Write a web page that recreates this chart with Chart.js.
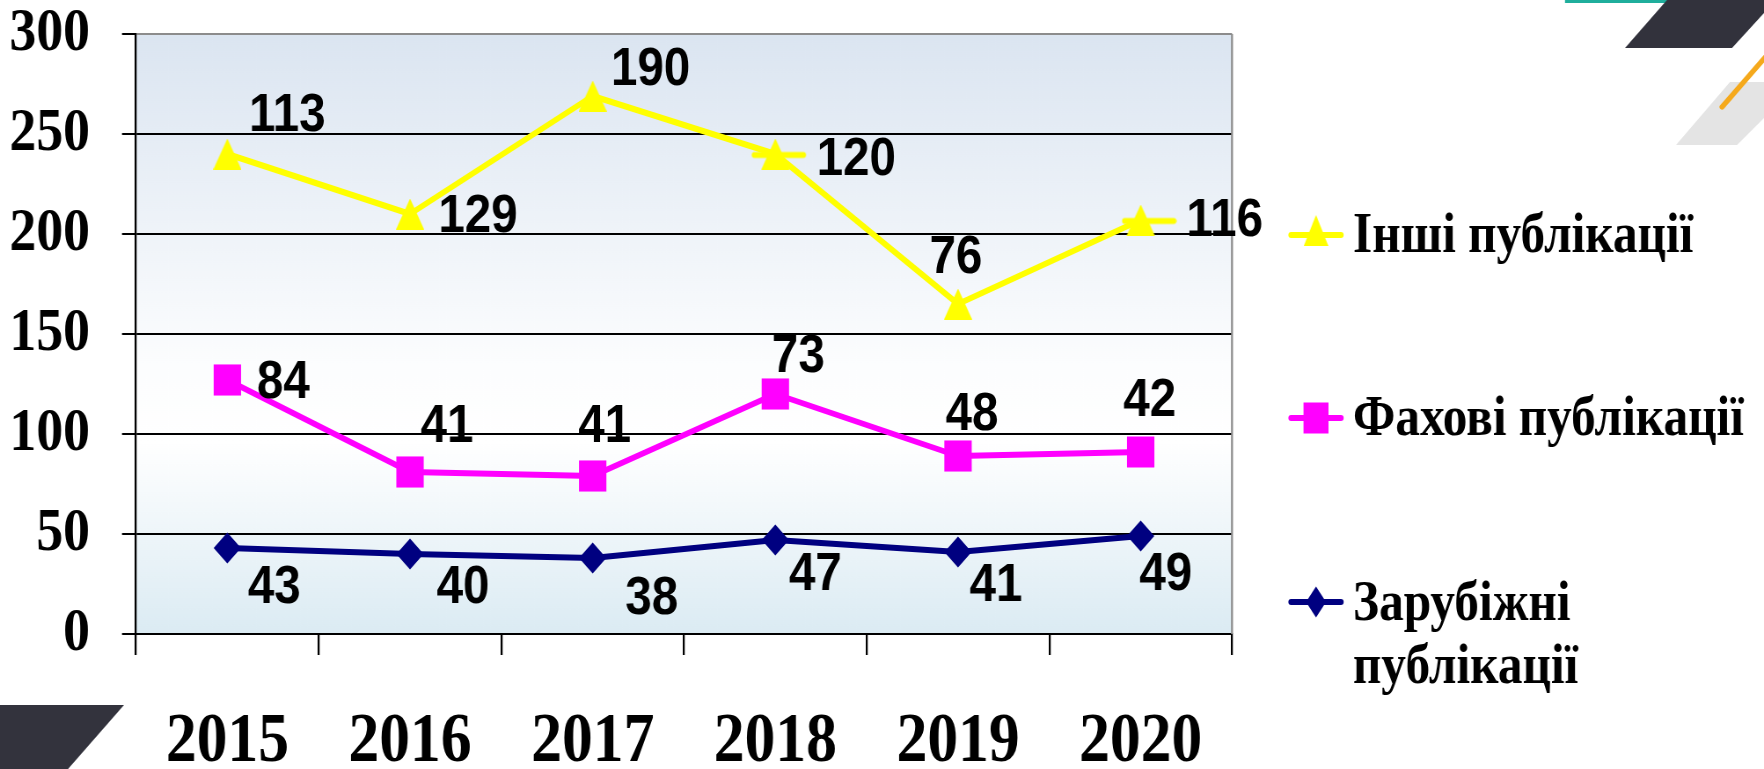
<!DOCTYPE html>
<html><head><meta charset="utf-8">
<script src="https://cdn.jsdelivr.net/npm/chart.js@4.4.1/dist/chart.umd.min.js"></script>
<style>
html,body{margin:0;padding:0;background:#fff;overflow:hidden;}
#wrap{position:relative;width:1764px;height:769px;overflow:hidden;background:#fff;}
#c{position:absolute;left:0;top:0;transform-origin:0 0;}
</style></head><body>
<div id="wrap"><canvas id="c" width="2005" height="769" style="width:2005px;height:769px"></canvas></div>
<script>
// ---- data ----
const years = ['2015','2016','2017','2018','2019','2020'];
const foreignPubs = [43, 40, 38, 47, 41, 49];        // Зарубіжні публікації
const professionalPubs = [84, 41, 41, 73, 48, 42];   // Фахові публікації
const otherPubs = [113, 129, 190, 120, 76, 116];     // Інші публікації
const yTickValues = [0, 50, 100, 150, 200, 250, 300];
const seriesNames = ['Зарубіжні публікації', 'Фахові публікації', 'Інші публікації'];

// ---- layout / style ----
const W = 2005, H = 769;
const S = 1764 / W;               // horizontal condensation of the whole picture
document.getElementById('c').style.transform = 'scaleX(' + S + ')';
const ax = v => v / S;            // actual px -> internal px (horizontal)

const COLORS = ['#000080', '#FF00FF', '#FFFF00'];

// label offsets (actual px, relative to point)
const labelOffsets = [
  [[47,40],[53,34],[59,41],[40,35],[38,34],[25,39]],
  [[56,3],[37,-45],[12,-49],[23,-37],[14,-41],[9,-51]],
  [[60,-38],[68,3],[58,-26],[81,6],[-2,-46],[84,1]]
];

function triCanvas(wAct, h, color, dash) {
  const c = document.createElement('canvas');
  const tw = Math.round(ax(wAct));
  c.width = dash ? Math.round(ax(72)) : tw; c.height = h;
  const g = c.getContext('2d');
  const cx = c.width / 2;
  g.fillStyle = color;
  g.beginPath();
  g.moveTo(cx, 0);
  g.lineTo(cx + tw / 2, c.height);
  g.lineTo(cx - tw / 2, c.height);
  g.closePath(); g.fill();
  if (dash) {
    g.strokeStyle = color; g.lineWidth = 6; g.lineCap = 'round';
    g.beginPath(); g.moveTo(cx - ax(dash[0]), h / 2 + 1); g.lineTo(cx + ax(dash[1]), h / 2 + 1); g.stroke();
  }
  return c;
}
const triPoint = triCanvas(28, 31, COLORS[2]);
const triDashA = triCanvas(28, 31, COLORS[2], [21, 28]);
const triDashB = triCanvas(28, 31, COLORS[2], [16, 33]);
const triLegend = triCanvas(25, 31, COLORS[2]);

const decorPlugin = {
  id: 'decor',
  beforeDraw(chart) {
    const ctx = chart.ctx, a = chart.chartArea;
    ctx.save();
    ctx.fillStyle = '#ffffff';
    ctx.fillRect(0, 0, chart.width, chart.height);
    const gr = ctx.createLinearGradient(0, a.top, 0, a.bottom);
    gr.addColorStop(0, '#dbe5f1');
    gr.addColorStop(0.55, '#fcfdfe');
    gr.addColorStop(0.68, '#ffffff');
    gr.addColorStop(1, '#dbebf3');
    ctx.fillStyle = gr;
    ctx.fillRect(a.left, a.top, a.right - a.left, a.bottom - a.top);
    ctx.scale(1 / S, 1);
    const poly = (pts, col) => {
      ctx.fillStyle = col; ctx.beginPath();
      pts.forEach((p, i) => i ? ctx.lineTo(p[0], p[1]) : ctx.moveTo(p[0], p[1]));
      ctx.closePath(); ctx.fill();
    };
    poly([[1565,0],[1700,0],[1700,3],[1565,3]], '#1fae9c');
    poly([[1667,0],[1776,0],[1732,48],[1625,48]], '#32323c');
    poly([[1730,82],[1800,82],[1737,145],[1676,145]], '#e4e4e4');
    ctx.strokeStyle = '#f5a91c'; ctx.lineWidth = 5; ctx.lineCap = 'round';
    ctx.beginPath(); ctx.moveTo(1722, 107); ctx.lineTo(1775, 46); ctx.stroke();
    poly([[0,705],[124,705],[68,769],[0,769]], '#33333d');
    ctx.restore();
  },
  beforeDatasetsDraw(chart) {
    const ctx = chart.ctx, a = chart.chartArea;
    ctx.save();
    ctx.strokeStyle = '#8c8c8c'; ctx.lineWidth = ax(2);
    ctx.beginPath(); ctx.moveTo(a.right, a.top); ctx.lineTo(a.right, a.bottom); ctx.stroke();
    ctx.restore();
  },
  afterDatasetsDraw(chart) {
    const ctx = chart.ctx;
    ctx.save();
    ctx.font = 'bold 54px "Liberation Sans", Arial, sans-serif';
    ctx.fillStyle = '#000';
    ctx.textAlign = 'center'; ctx.textBaseline = 'middle';
    chart.data.datasets.forEach((ds, di) => {
      const meta = chart.getDatasetMeta(di);
      meta.data.forEach((pt, i) => {
        const off = labelOffsets[di][i];
        ctx.fillText(String(ds.rawValues[i]), pt.x + ax(off[0]), pt.y + off[1]);
      });
    });
    ctx.restore();
  },
  afterDraw(chart) {
    const ctx = chart.ctx;
    ctx.save();
    const rows = [
      {di: 2, y: 235, base: 252},
      {di: 1, y: 418, base: 435},
      {di: 0, y: 602, base: 620}
    ];
    ctx.font = 'bold 56px "Liberation Serif", "Times New Roman", serif';
    ctx.textAlign = 'left'; ctx.textBaseline = 'alphabetic';
    const maxW = ax(400);
    rows.forEach(r => {
      const ds = chart.data.datasets[r.di];
      ctx.strokeStyle = ds.borderColor; ctx.lineWidth = 6; ctx.lineCap = 'round';
      ctx.beginPath(); ctx.moveTo(ax(1291), r.y); ctx.lineTo(ax(1341), r.y); ctx.stroke();
      const cx = ax(1316);
      ctx.fillStyle = ds.borderColor;
      if (r.di === 2) {
        ctx.drawImage(triLegend, cx - triLegend.width / 2, r.y - 20);
      } else if (r.di === 1) {
        ctx.fillRect(cx - ax(12.5), r.y - 15.5, ax(25), 31);
      } else {
        ctx.beginPath();
        ctx.moveTo(cx, r.y - 15.5); ctx.lineTo(cx + ax(10), r.y);
        ctx.lineTo(cx, r.y + 15.5); ctx.lineTo(cx - ax(10), r.y);
        ctx.closePath(); ctx.fill();
      }
      const words = ds.label.split(' ');
      const lines = []; let cur = '';
      words.forEach(w => {
        const t = cur ? cur + ' ' + w : w;
        if (cur && ctx.measureText(t).width > maxW) { lines.push(cur); cur = w; } else cur = t;
      });
      lines.push(cur);
      ctx.fillStyle = '#000';
      lines.forEach((ln, k) => ctx.fillText(ln, ax(1353), r.base + k * 63));
    });
    ctx.restore();
  }
};

const datasets = [
  {label: seriesNames[0], data: foreignPubs, rawValues: foreignPubs, borderColor: COLORS[0], backgroundColor: COLORS[0],
   pointStyle: 'rectRot', pointRadius: 15.5},
  {label: seriesNames[1], data: professionalPubs, rawValues: professionalPubs, borderColor: COLORS[1], backgroundColor: COLORS[1],
   pointStyle: 'rect', pointRadius: 22},
  {label: seriesNames[2], data: otherPubs, rawValues: otherPubs, borderColor: COLORS[2], backgroundColor: COLORS[2],
   pointStyle: [triPoint, triPoint, triPoint, triDashA, triPoint, triDashB], pointRadius: 16}
].map(d => Object.assign({
  borderWidth: 6, fill: false, tension: 0, borderJoinStyle: 'round', borderCapStyle: 'round',
  pointBorderWidth: 0, clip: false
}, d, {pointBorderColor: d.borderColor, pointBackgroundColor: d.backgroundColor, pointHoverRadius: d.pointRadius}));

new Chart(document.getElementById('c'), {
  type: 'line',
  data: {labels: years, datasets},
  options: {
    responsive: false, animation: false, devicePixelRatio: 1,
    events: [],
    layout: {padding: {left: 0, top: 34, right: W - ax(1232), bottom: 0}},
    plugins: {legend: {display: false}, tooltip: {enabled: false}},
    scales: {
      x: {
        offset: true,
        grid: {display: true, drawOnChartArea: false, drawTicks: true, tickLength: 21, color: '#000', lineWidth: ax(2), offset: true},
        border: {display: true, color: '#000', width: 2},
        ticks: {color: '#000', padding: 53, font: {family: '"Liberation Serif", "Times New Roman", serif', weight: 'bold', size: 70, lineHeight: 1}},
        afterFit: s => { s.height = H - 634; s.paddingLeft = 0; s.paddingRight = 0; }
      },
      y: {
        stacked: true, min: 0, max: 300,
        afterBuildTicks: s => { s.ticks = yTickValues.map(v => ({value: v})); },
        grid: {display: true, drawTicks: true, tickLength: ax(14), lineWidth: 2, tickColor: '#000',
               color: c => (c.tick && c.tick.value === 300) ? '#8c8c8c' : '#000'},
        border: {display: true, color: '#000', width: ax(2)},
        ticks: {color: '#000', padding: ax(32), font: {family: '"Liberation Serif", "Times New Roman", serif', weight: 'bold', size: 61, lineHeight: 1}},
        afterFit: s => { s.width = ax(136); s.paddingTop = 0; s.paddingBottom = 0; }
      }
    }
  },
  plugins: [decorPlugin]
});
</script>
</body></html>
